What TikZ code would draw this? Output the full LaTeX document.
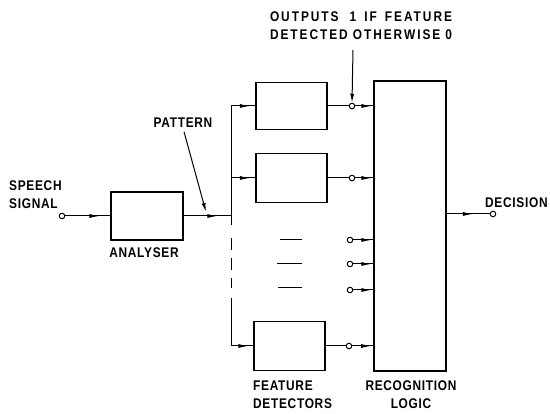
\documentclass[tikz,border=0pt]{standalone}
\usepackage{fontspec}
\setmainfont{Liberation Sans}[FakeStretch=0.85,LetterSpace=5]
\usetikzlibrary{arrows.meta,decorations.markings}
\begin{document}
\begin{tikzpicture}[x=1pt,y=-1pt,
  lbl/.style={font=\fontsize{14}{18}\selectfont\bfseries, inner sep=0pt},
  box/.style={draw, line width=1.5pt, inner sep=0pt},
  port/.style={circle, draw, line width=1pt, fill=white, inner sep=0pt, minimum size=5.5pt},
  conn/.style={line width=1pt},
  tip/.style={-{Latex[length=9pt,width=4pt]}},
  midarr/.style={postaction={decorate}, decoration={markings, mark=at position #1 with {\arrow{Latex[length=10pt,width=4pt]}}}},
]
\useasboundingbox (0,0) rectangle (550,414);

% input and analyser
\node[lbl, anchor=west, align=left] (spl) at (9,195) {SPEECH\\SIGNAL};
\node[port] (sig) at (62,216) {};
\node[box, minimum width=72pt, minimum height=48pt] (ana) at (147,216) {};
\node[lbl] (anal) at (144,253) {ANALYSER};
\draw[conn, midarr=0.76] (sig) -- (ana.west);

% bus
\coordinate (btop) at (231,106);
\coordinate (b2) at (231,178);
\coordinate (b0) at (231,216);
\coordinate (bs) at (231,225);
\coordinate (bd) at (231,298);
\coordinate (bbot) at (231,346);
\draw[conn, midarr=0.71] (ana.east) -- (b0);
\draw[conn] (btop) -- (bs);
\draw[conn, dash pattern=on 0pt off 13pt on 12pt off 8pt on 12pt off 8pt on 10pt off 20pt] (bs) -- (bd);
\draw[conn] (bd) -- (bbot);

% pattern label
\node[lbl] (pat) at (183,123) {PATTERN};
\coordinate (pa) at (206,212);
\draw[conn, tip, shorten <=4pt] (pat.south) -- (pa);

% feature detectors
\node[box, minimum width=71pt, minimum height=47pt] (fd1) at (291.5,106) {};
\node[box, minimum width=71pt, minimum height=49pt] (fd2) at (291.5,178) {};
\node[box, minimum width=71pt, minimum height=49pt] (fd3) at (289.5,346) {};
\draw[conn, midarr=0.78] (btop) -- (fd1.west);
\draw[conn, midarr=0.78] (b2) -- (fd2.west);
\draw[conn, midarr=0.78] (bbot) -- (fd3.west);
\node[lbl, anchor=west, align=left] (fdl) at (253,395) {FEATURE\\DETECTORS};

% ellipsis marks
\draw[conn] (280,240) -- (302,240);
\draw[conn] (277,264) -- (302,264);
\draw[conn] (278,288) -- (302,288);

% recognition logic
\node[box, minimum width=72pt, minimum height=290pt] (lg) at (410,226) {};
\node[lbl, align=center] (lgl) at (411,395) {RECOGNITION\\LOGIC};

% outputs
\node[port] (o1) at (352,106) {};
\node[port] (o2) at (352,178) {};
\node[port] (o3) at (350,240) {};
\node[port] (o4) at (350,264) {};
\node[port] (o5) at (350,290) {};
\node[port] (o6) at (349,346) {};
\draw[conn] (fd1.east) -- (o1);
\draw[conn] (fd2.east) -- (o2);
\draw[conn] (fd3.east) -- (o6);
\foreach \o in {o1,o2,o3,o4,o5,o6}{
  \draw[conn, midarr=0.9] (\o) -- (\o -| lg.west);
}

% annotation
\node[lbl, align=center] (outl) at (361,25.5) {\addfontfeatures{LetterSpace=14}\makebox[182pt][s]{OUTPUTS\hfil\hspace{3pt}1\hfil IF\hfil FEATURE}\\\addfontfeatures{LetterSpace=14}\makebox[182pt][s]{DETECTED\hfil OTHERWISE\hfil 0}};
\coordinate (oa) at (353,50);
\draw[conn, tip] (oa) -- (o1.north);

% decision
\node[port] (dec) at (493,214) {};
\draw[conn, midarr=0.61] (lg.east |- dec) -- (dec);
\node[lbl, anchor=west] (decl) at (485,203) {DECISION};
\end{tikzpicture}
\end{document}
